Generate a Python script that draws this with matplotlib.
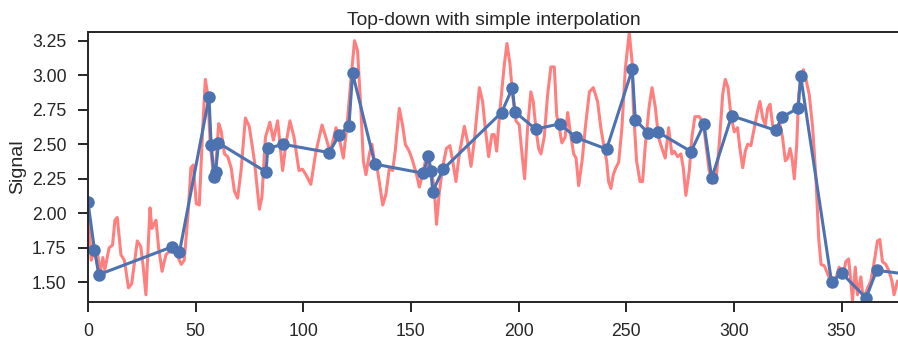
import matplotlib
matplotlib.use('Agg')
import matplotlib.pyplot as plt
import seaborn as sns

# raw signal (peaks / troughs)
sig_x = [0, 1.5, 3, 4.5, 5.6, 6.9, 7.8, 9.8, 11.4, 12.5, 13.6, 15.3, 16.9, 18.8, 20.3,
         22.9, 24.5, 25.6, 26.9, 28.8, 29.7, 30.9, 31.6, 32.8, 34.4, 36.2, 37.5, 39.5,
         41, 43.3, 44.7, 46.5, 47.8, 48.9, 50.3, 51.7, 53.3, 54.5, 55.6, 56.8, 57.9,
         59.0, 60.7, 61.8, 63.4, 64.9, 66.5, 68.0, 69.5, 71.1, 73.1, 74.9, 77.3, 79.6,
         80.8, 82.4, 84.5, 86.1, 88.1, 90.4, 91.9, 93.8, 95.7, 98.0, 99.6, 101.2, 103.5,
         105.8, 108.7, 110.5, 112.5, 115.2, 117.0, 118.6, 120.2, 122.2, 123.8, 125.2,
         126.8, 127.9, 129.1, 130.7, 131.9, 133.0, 134.5, 136.9, 138.4, 140.0, 141.5,
         142.7, 144.6, 146.1, 147.4, 149.2, 150.8, 152.6, 153.9, 155.4, 157.0, 158.5,
         159.5, 160.8, 161.9, 163.1, 164.7, 166.5, 168.1, 169.4, 170.9, 172.5, 174.8,
         176.3, 177.9, 179.4, 181.8, 183.3, 184.5, 186.1, 187.6, 188.7, 189.8, 191.3,
         193.4, 194.6, 196.0, 197.2, 198.8, 200.3, 201.6, 202.8, 204.2, 205.7, 206.8,
         208.0, 209.3, 210.4, 211.9, 213.5, 215.0, 216.6, 217.7, 218.9, 220.1, 221.6,
         222.8, 224.0, 225.6, 226.7, 227.9, 229.5, 231.0, 232.9, 234.7, 236.7, 238.2,
         239.8, 240.9, 241.8, 242.9, 244.0, 245.2, 246.5, 248.0, 249.6, 251.4, 252.7,
         253.3, 254.8, 256.4, 257.6, 258.9, 260.7, 262.0, 263.5, 265.0, 266.6, 268.1,
         269.7, 271.2, 272.3, 273.9, 275.4, 276.5, 277.7, 279.3, 280.5, 281.9, 283.9,
         285.8, 287.0, 288.5, 290.1, 291.6, 293.2, 294.8, 296.0, 297.3, 298.6, 300.2,
         301.7, 302.8, 304.1, 305.3, 306.4, 307.9, 309.5, 311.0, 312.1, 313.4, 314.6,
         315.7, 316.8, 318.0, 319.6, 321.2, 322.6, 323.9, 325.0, 326.1, 327.0, 328.1,
         329.2, 330.1, 331.2, 332.3, 333.5, 335.0, 336.6, 338.1, 339.4, 340.5, 342.0,
         343.1, 344.3, 345.8, 347.4, 348.9, 350.8, 352.0, 353.3, 354.3, 355.1, 356.4,
         357.4, 359.0, 360.1, 362.1, 363.6, 365.2, 366.7, 367.8, 369.0, 370.6, 372.1,
         373.4, 374.4, 376.0]
sig_y = [2.07, 1.66, 1.74, 1.70, 1.57, 1.68, 1.59, 1.75, 1.77, 1.95, 1.97, 1.70, 1.66, 1.46, 1.49,
         1.80, 1.76, 1.62, 1.41, 2.04, 1.89, 1.93, 1.95, 1.75, 1.58, 1.70, 1.72, 1.76,
         1.71, 1.63, 1.66, 2.00, 2.33, 2.35, 2.07, 2.06, 2.62, 2.97, 2.86, 2.50, 2.33,
         2.27, 2.65, 2.60, 2.43, 2.41, 2.33, 2.16, 2.11, 2.31, 2.69, 2.63, 2.38, 2.03,
         2.12, 2.55, 2.66, 2.53, 2.67, 2.31, 2.50, 2.67, 2.55, 2.31, 2.32, 2.28, 2.21,
         2.44, 2.64, 2.55, 2.44, 2.62, 2.52, 2.40, 2.62, 2.98, 3.25, 3.18,
         2.74, 2.38, 2.28, 2.43, 2.50, 2.38, 2.31, 2.06, 2.14, 2.33, 2.31,
         2.45, 2.76, 2.64, 2.50, 2.45, 2.38, 2.28, 2.19, 2.28, 2.40, 2.32,
         2.30, 2.19, 1.92, 2.14, 2.33, 2.47, 2.49, 2.38, 2.23, 2.43, 2.63,
         2.52, 2.34, 2.52, 2.91, 2.81, 2.62, 2.41, 2.57, 2.57, 2.45, 2.74,
         3.08, 3.23, 3.08, 2.86, 2.67, 2.64, 2.43, 2.25, 2.62, 2.88, 2.81,
         2.62, 2.47, 2.43, 2.55, 2.86, 3.06, 3.06, 2.71, 2.62, 2.51, 2.55,
         2.73, 2.59, 2.43, 2.40, 2.20, 2.38, 2.62, 2.88, 2.91, 2.81, 2.62,
         2.47, 2.38, 2.23, 2.18, 2.28, 2.33, 2.37, 2.62, 3.05, 3.31, 3.10,
         2.77, 2.38, 2.23, 2.23, 2.50, 2.78, 2.91, 2.77, 2.55, 2.47, 2.40,
         2.62, 2.43, 2.45, 2.41, 2.43, 2.33, 2.13, 2.31, 2.55, 2.70, 2.70,
         2.66, 2.50, 2.31, 2.23, 2.22, 2.50, 2.86, 2.97, 2.91, 2.71, 2.59,
         2.62, 2.47, 2.33, 2.45, 2.50, 2.49, 2.62, 2.74, 2.81, 2.69, 2.64,
         2.76, 2.79, 2.64, 2.58, 2.66, 2.55, 2.38, 2.40, 2.47, 2.40, 2.25,
         2.50, 2.86, 2.98, 3.04, 2.97, 2.86, 2.62, 2.26, 1.82, 1.63, 1.62,
         1.58, 1.53, 1.51, 1.53, 1.61, 1.56, 1.65, 1.67, 1.51, 1.37, 1.61,
         1.41, 1.54, 1.37, 1.46, 1.51, 1.65, 1.80, 1.81, 1.65, 1.63, 1.58,
         1.51, 1.41, 1.51]

# top-down segmentation breakpoints
seg_x = [0, 3.0, 5.0, 38.8, 42.5, 56.2, 57.2, 58.7, 59.3, 60.6, 82.7, 83.5, 90.6,
         112.0, 116.7, 121.2, 122.9, 133.3, 155.8, 158.1, 159.3, 160.1, 165.0,
         192.1, 197.1, 198.3, 207.9, 219.2, 226.5, 240.9, 252.8, 254.2, 260.0,
         264.9, 280.1, 286.1, 289.7, 299.0, 319.6, 322.2, 329.9, 331.0, 345.4,
         350.0, 361.4, 366.3, 380]
seg_y = [2.08, 1.735, 1.556, 1.756, 1.72, 2.84, 2.495, 2.26, 2.30, 2.51, 2.30, 2.47, 2.50,
         2.44, 2.568, 2.633, 3.014, 2.356, 2.29, 2.418, 2.31, 2.158, 2.32,
         2.73, 2.906, 2.735, 2.61, 2.648, 2.55, 2.465, 3.043, 2.677, 2.585,
         2.587, 2.447, 2.645, 2.255, 2.706, 2.60, 2.696, 2.761, 2.997, 1.50,
         1.568, 1.387, 1.587, 1.56]

sns.set_theme(context='notebook', style='ticks')
plt.rcParams['font.family'] = ['Liberation Sans', 'DejaVu Sans']

fig = plt.figure(figsize=(8.98, 3.40), dpi=100)
ax = fig.add_axes([88/898, 38.3/340, 811/898, 269.7/340])
ax.plot(sig_x, sig_y, color='red', alpha=0.5, lw=2.2)
ax.plot(seg_x, seg_y, color='#4c72b0', lw=2.2, marker='o', ms=8)
ax.set_xlim(0, 376.7)
ax.set_ylim(1.36, 3.313)
ax.set_xticks(range(0, 351, 50))
ax.set_yticks([1.5, 1.75, 2.0, 2.25, 2.5, 2.75, 3.0, 3.25])
ax.tick_params(labelsize=12.7, length=7, width=1.4, pad=8.5)
for sp in ax.spines.values():
    sp.set_linewidth(1.4)
ax.set_ylabel('Signal', fontsize=14, labelpad=4)
ax.set_title('Top-down with simple interpolation', fontsize=13.9, pad=5)
fig.savefig('out.png', dpi=100)
